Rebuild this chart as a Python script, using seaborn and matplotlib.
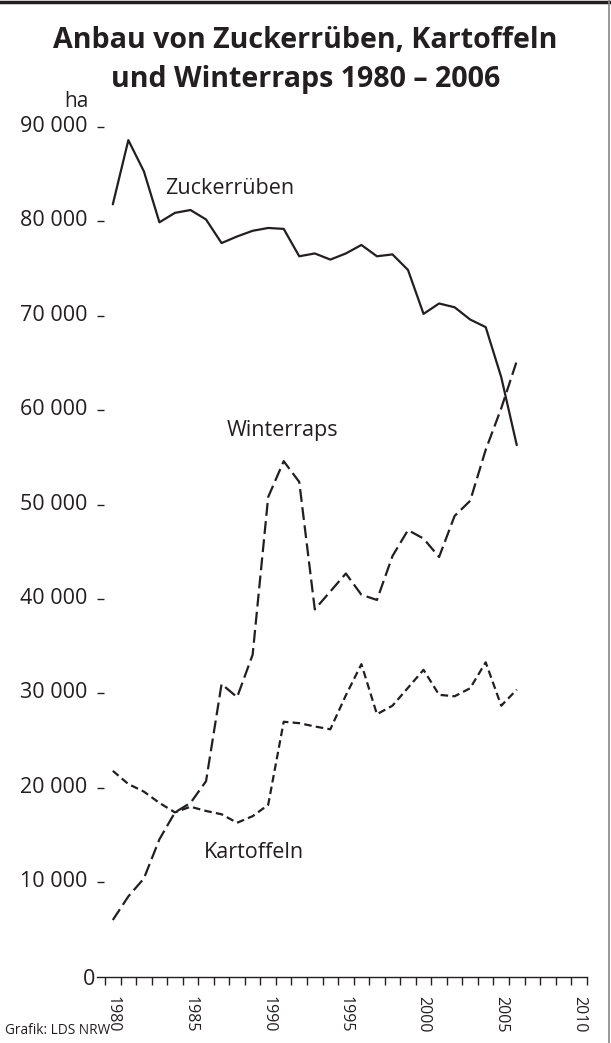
import numpy as np
import pandas as pd
import matplotlib
matplotlib.use('Agg')
import matplotlib.pyplot as plt
import matplotlib.transforms as mtransforms
import seaborn as sns

sns.set_theme(style='white')
plt.rcParams['font.family'] = ['Open Sans', 'DejaVu Sans']

INK = '#231f20'

# Daten (ha)
jahre = list(range(1980, 2007))
zuckerrueben = [81800, 88600, 85300, 79900, 80900, 81200, 80200, 77700, 78400, 79000,
                79300, 79200, 76300, 76600, 75950, 76600, 77500, 76300, 76500, 74850,
                70200, 71300, 70900, 69600, 68800, 63500, 56300]
kartoffeln = [21800, 20400, 19600, 18400, 17400, 18000, 17550, 17200, 16300, 17000,
              18200, 27000, 26850, 26500, 26200, 29800, 33100, 27800, 28700, 30600,
              32500, 29850, 29700, 30550, 33300, 28700, 30400]
winterraps = [6000, 8500, 10400, 14550, 17400, 18400, 20700, 31000, 29600, 34100,
              50800, 54600, 52400, 38900, 40800, 42700, 40450, 39900, 44550, 47300,
              46400, 44450, 48800, 50400, 55800, 60200, 65200]

ytick_werte = [10000, 20000, 30000, 40000, 50000, 60000, 70000, 80000, 90000]
ytick_labels = ['10 000', '20 000', '30 000', '40 000', '50 000', '60 000',
                '70 000', '80 000', '90 000']
xtick_jahre = [1980, 1985, 1990, 1995, 2000, 2005, 2010]

df = pd.DataFrame({
    'Jahr': jahre * 3,
    'ha': zuckerrueben + kartoffeln + winterraps,
    'Kultur': ['Zuckerrüben'] * len(jahre) + ['Kartoffeln'] * len(jahre)
              + ['Winterraps'] * len(jahre),
})

fig = plt.figure(figsize=(6.11, 10.43), dpi=100)
ax = fig.add_axes([0.1592, 0.0636, 0.801, 0.8328])

sns.lineplot(
    data=df, x='Jahr', y='ha', style='Kultur',
    dashes={'Zuckerrüben': '', 'Kartoffeln': (3.4, 1.9), 'Winterraps': (5.8, 2.4)},
    color=INK, lw=1.6, estimator=None, legend=False, ax=ax
)

ax.set_xlim(1979, 2010.5)
ax.set_ylim(0, 92000)
ax.set_xlabel('')
ax.set_ylabel('')

for s in ['top', 'right', 'left']:
    ax.spines[s].set_visible(False)
ax.spines['bottom'].set_color(INK)
ax.spines['bottom'].set_linewidth(1.0)

# x-Achse: Jahreszahlen ohne Strich, Striche zwischen den Jahren
ax.set_xticks(xtick_jahre)
ax.set_xticklabels([str(j) for j in xtick_jahre], rotation=-90, fontsize=11.5, color=INK)
ax.set_xticks(np.arange(1979.5, 2011, 1.0), minor=True)
ax.tick_params(axis='x', which='major', length=0, pad=14)
ax.tick_params(axis='x', which='minor', bottom=True, direction='out', length=6,
               width=1.0, color=INK)

# y-Achse
ax.set_yticks(ytick_werte)
ax.set_yticklabels(ytick_labels, fontsize=15.5, color=INK)
ax.tick_params(axis='y', which='major', left=True, direction='in', length=5.3,
               width=1.0, color=INK, pad=7)
shift = mtransforms.ScaledTranslation(0, 3 / 100, fig.dpi_scale_trans)
for lab in ax.get_yticklabels():
    lab.set_transform(lab.get_transform() + shift)
ax.grid(False)

# Null und Einheit
ax.text(1979, 0, '0', ha='right', va='center', fontsize=15.5, color=INK,
        transform=ax.transData + mtransforms.ScaledTranslation(-2.5 / 100, -2.5 / 100, fig.dpi_scale_trans))
fig.text(89 / 611, 1 - 107 / 1043, 'ha', ha='right', va='baseline', fontsize=15, color=INK)

# Reihenbeschriftungen
ax.text(1987.5, 83500, 'Zuckerrüben', ha='center', va='center', fontsize=15.5, color=INK)
ax.text(1990.95, 57900, 'Winterraps', ha='center', va='center', fontsize=15.5, color=INK)
ax.text(1989.1, 13100, 'Kartoffeln', ha='center', va='center', fontsize=15.5, color=INK)

# Titel
fig.text(0.5, 1 - 41 / 1043, 'Anbau von Zuckerrüben, Kartoffeln', ha='center', va='center',
         fontsize=20.6, fontweight='bold', color=INK)
fig.text(0.5, 1 - 79 / 1043, 'und Winterraps 1980 – 2006', ha='center', va='center',
         fontsize=20.6, fontweight='bold', color=INK)

fig.text(5 / 611, 1 - 1031 / 1043, 'Grafik: LDS NRW', ha='left', va='center', fontsize=9.8, color=INK)

# Rahmen oben und rechts
fig.add_artist(plt.Line2D([0, 1], [0.9985, 0.9985], transform=fig.transFigure, color=INK, lw=2.5))
fig.add_artist(plt.Line2D([0.997, 0.997], [0, 1], transform=fig.transFigure, color='#888888', lw=1.2))

fig.savefig('out.png', dpi=100)
